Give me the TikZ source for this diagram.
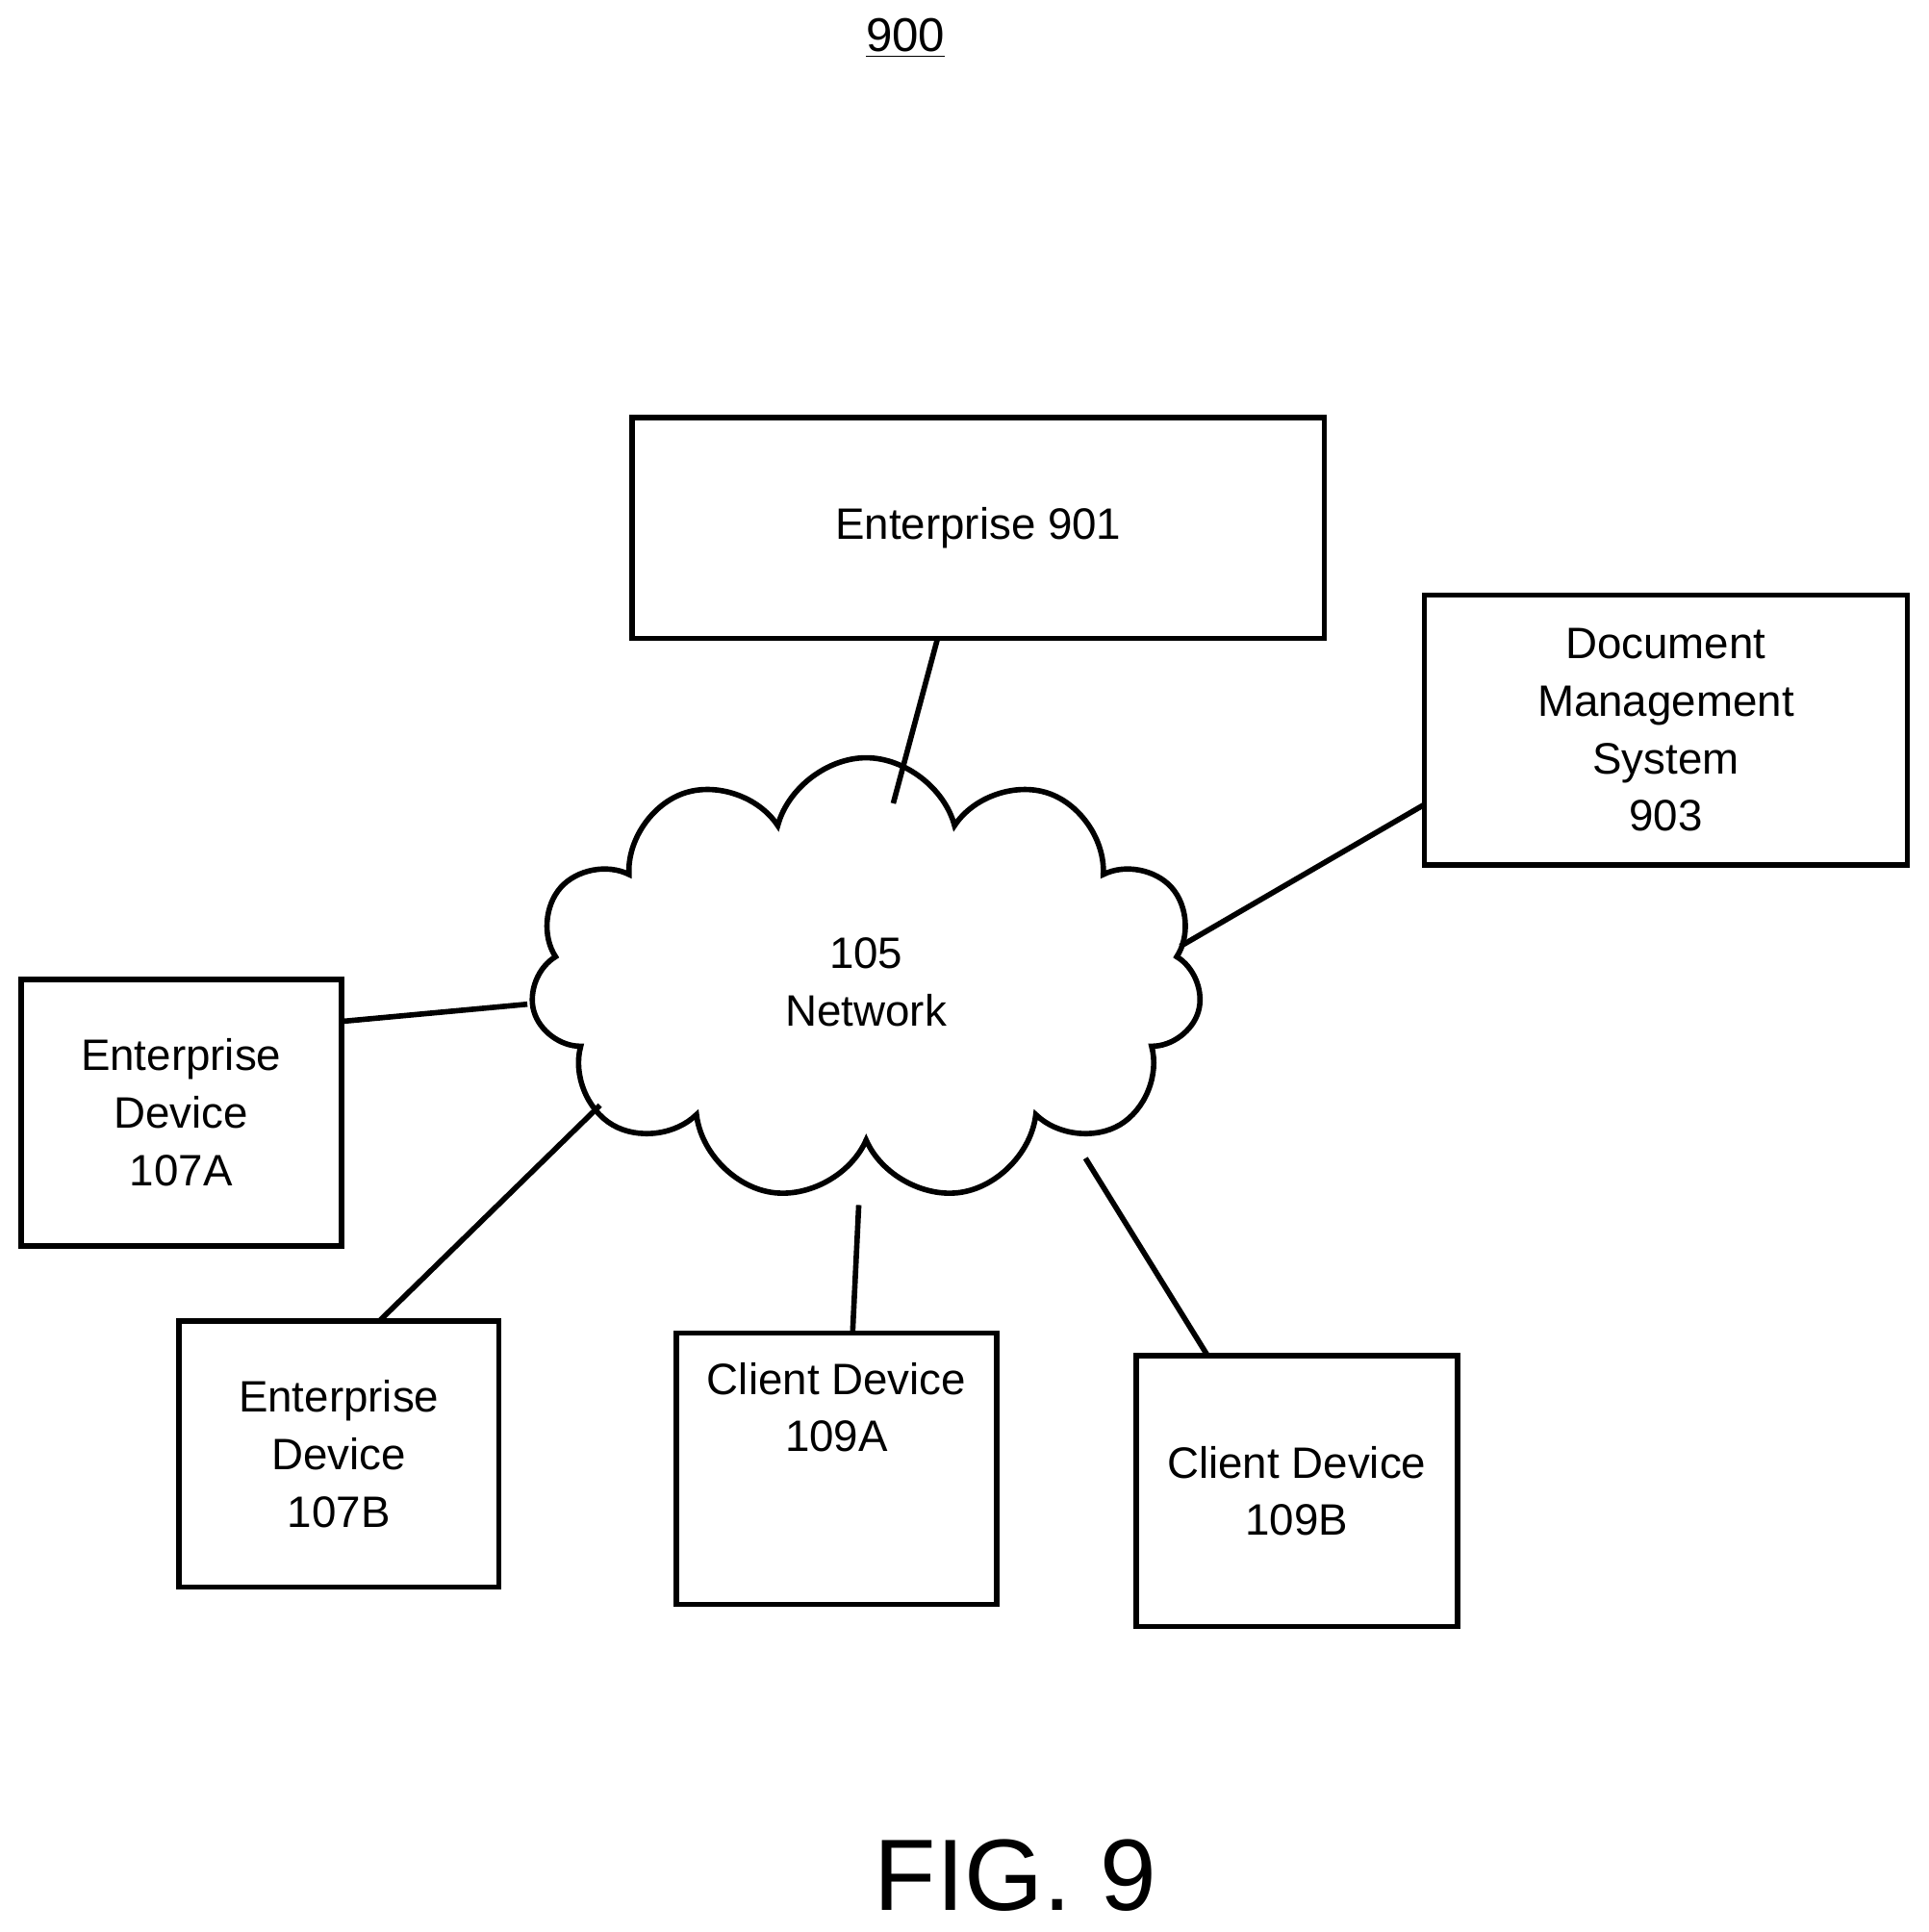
\documentclass[tikz,border=0pt]{standalone}
\usepackage{fontspec}
\setmainfont{Liberation Sans}
\usetikzlibrary{shapes.symbols}
\begin{document}
\begin{tikzpicture}[x=0.0128cm,y=-0.0128cm,line width=1.6pt,
  box/.style={draw,rectangle,inner sep=0pt,align=center,font=\fontsize{13}{17}\selectfont},
  lbl/.style={font=\fontsize{13}{17}\selectfont,align=center}]
\useasboundingbox (0,0) rectangle (1565,1568);
\node[box,minimum width=562*0.0128cm,minimum height=179*0.0128cm] (e901) at (794,428.5) {Enterprise 901};
\node[box,minimum width=392*0.0128cm,minimum height=219*0.0128cm] (dms) at (1352,592.5) {Document\\Management\\System\\903};
\node[box,minimum width=260*0.0128cm,minimum height=216*0.0128cm] (a107) at (147,903) {Enterprise\\Device\\107A};
\node[box,minimum width=260*0.0128cm,minimum height=216*0.0128cm] (b107) at (275,1180) {Enterprise\\Device\\107B};
\node[box,minimum width=260*0.0128cm,minimum height=220*0.0128cm] (a109) at (679,1192) {Client Device\\109A\\[1.5em]};
\node[box,minimum width=261*0.0128cm,minimum height=220*0.0128cm] (b109) at (1052.5,1210) {Client Device\\109B};
\node[cloud,draw,cloud puffs=11,aspect=1.5,minimum width=545*0.0128cm,minimum height=360*0.0128cm,inner sep=0pt] (net) at (703,795) {};
\node[lbl] (netl) at (703,797) {105\\Network};
\node[font=\fontsize{14}{17}\selectfont] (t900) at (735,31) {\underline{900}};
\node[font=\fontsize{30}{34}\selectfont] (fig) at (824,1522) {FIG. 9};
\coordinate (p1) at (761,518); \coordinate (q1) at (725,652);
\coordinate (p2) at (1156,653); \coordinate (q2) at (958,768);
\coordinate (p3) at (277,829); \coordinate (q3) at (428,815);
\coordinate (p4) at (308,1072); \coordinate (q4) at (487,897);
\coordinate (p5) at (692,1082); \coordinate (q5) at (697,978);
\coordinate (p6) at (980,1100); \coordinate (q6) at (881,940);
\draw (p1) -- (q1); \draw (p2) -- (q2); \draw (p3) -- (q3);
\draw (p4) -- (q4); \draw (p5) -- (q5); \draw (p6) -- (q6);
\end{tikzpicture}
\end{document}
